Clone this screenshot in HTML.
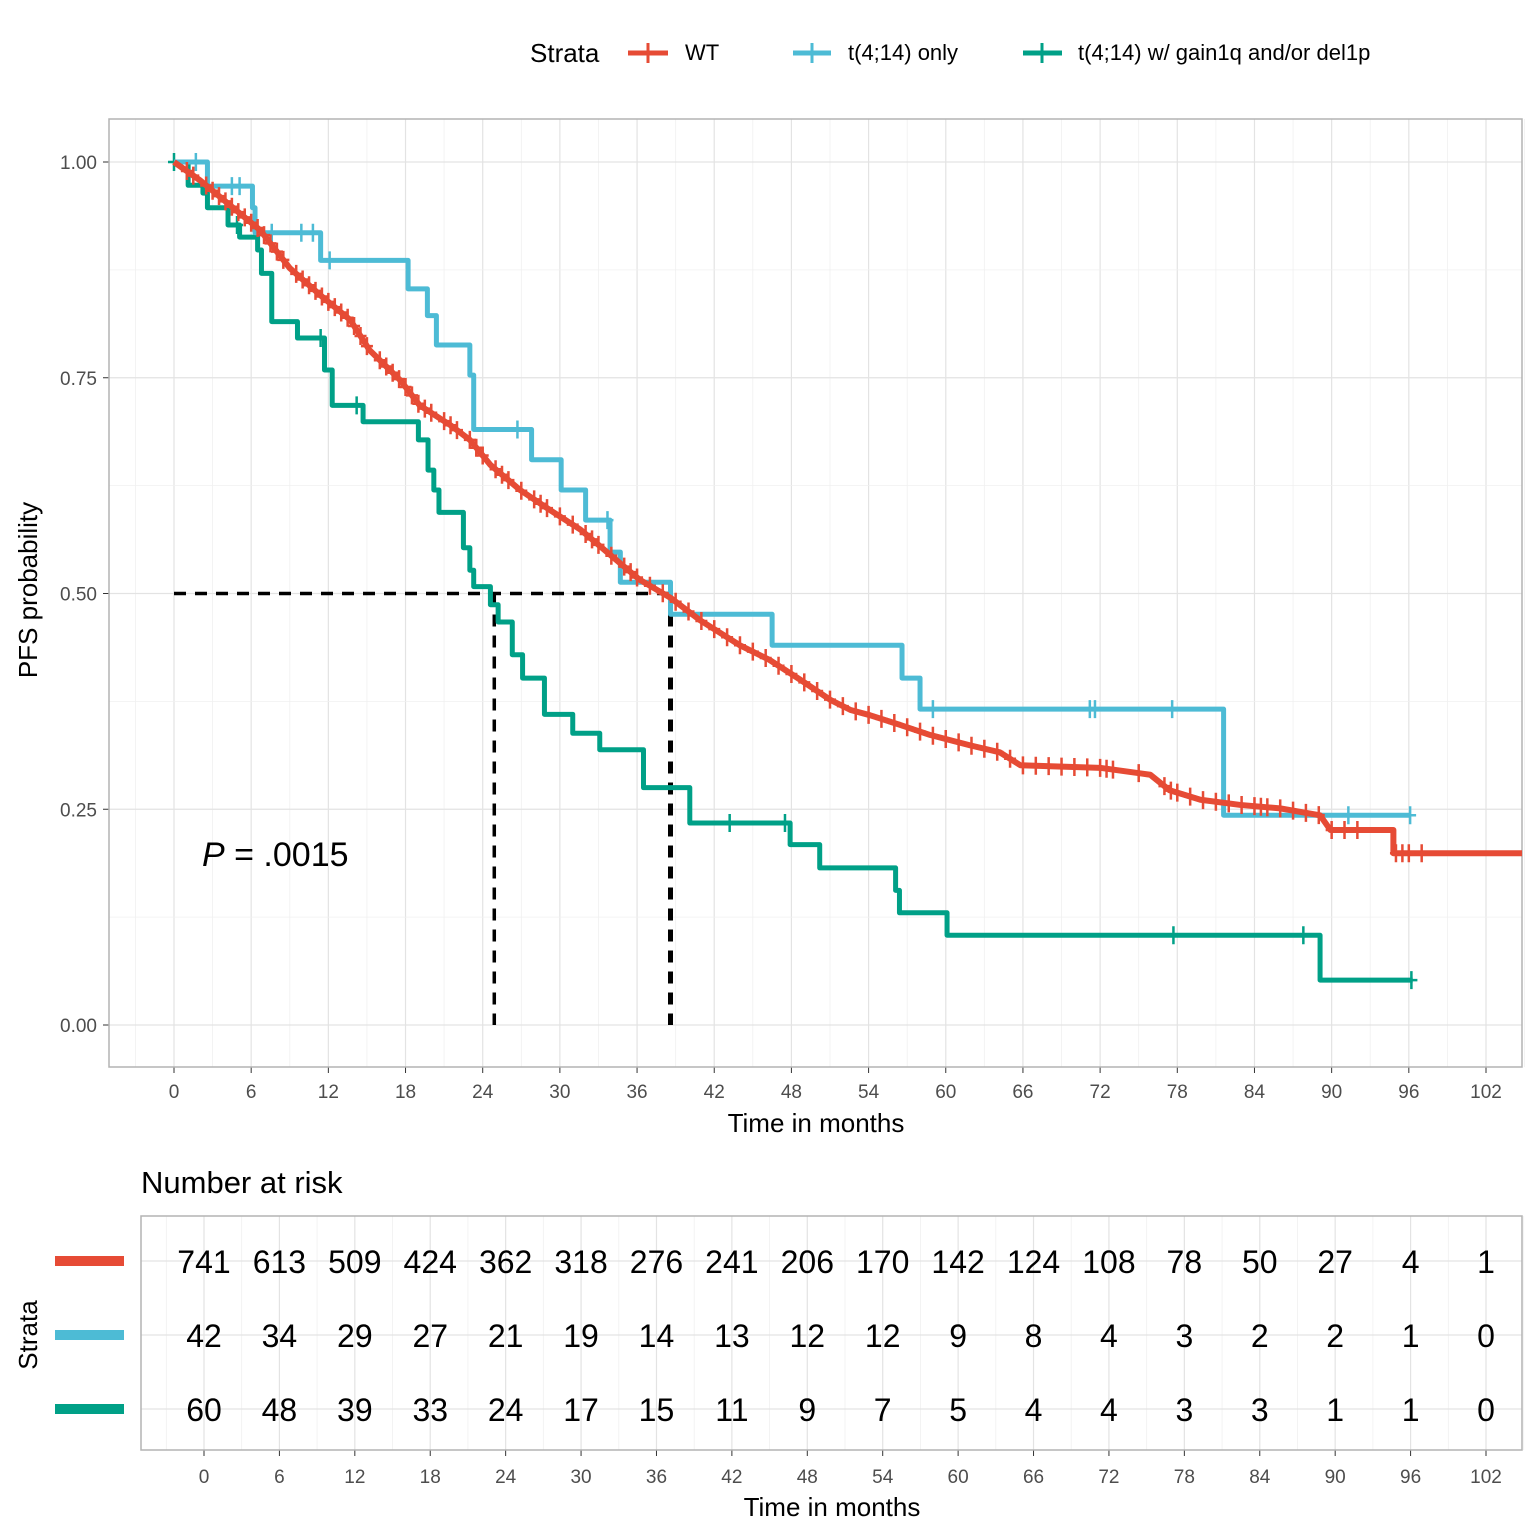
<!DOCTYPE html>
<html><head><meta charset="utf-8"><style>
html,body{margin:0;padding:0;background:#fff;}
svg{display:block;font-family:"Liberation Sans",Arial,sans-serif;}
</style></head><body>
<svg id="chart" width="1538" height="1538" viewBox="0 0 1538 1538" xmlns="http://www.w3.org/2000/svg">
<g id="legend">
 <text x="530" y="62" font-size="26" fill="#000">Strata</text>
 <g><line x1="628" y1="53" x2="668" y2="53" stroke="#E64B35" stroke-width="5"/><line x1="648" y1="43" x2="648" y2="63" stroke="#E64B35" stroke-width="3"/><text x="685" y="60" font-size="22">WT</text></g>
 <g><line x1="793" y1="53" x2="831" y2="53" stroke="#4DBBD5" stroke-width="5"/><line x1="812" y1="43" x2="812" y2="63" stroke="#4DBBD5" stroke-width="3"/><text x="848" y="60" font-size="22">t(4;14) only</text></g>
 <g><line x1="1023" y1="53" x2="1062" y2="53" stroke="#00A087" stroke-width="5"/><line x1="1042" y1="43" x2="1042" y2="63" stroke="#00A087" stroke-width="3"/><text x="1078" y="60" font-size="22">t(4;14) w/ gain1q and/or del1p</text></g>
</g>
<g id="main"></g>
<g id="risk"></g>
</svg>
<script>
// ---- data ----
const xTicks = [0,6,12,18,24,30,36,42,48,54,60,66,72,78,84,90,96,102];
const yTicks = [0,0.25,0.5,0.75,1.0];
const yTickLabels = ["0.00","0.25","0.50","0.75","1.00"];
const wtTimes = [0,2.0,4.35,6.7,9.0,11.35,13.7,15.2,17.6,19.1,21.5,23.0,24.6,26.9,29.2,31.6,33.9,36.2,38.6,40.9,44.0,46.3,48.7,51.0,52.6,54.1,56.4,58.8,61.9,64.2,65.8,72.0,75.9,77.4,79.8,82.9,86.0,89.1,89.9,94.5,94.8];
const wtSurv  = [1,0.979,0.950,0.921,0.877,0.846,0.817,0.782,0.747,0.718,0.695,0.678,0.649,0.620,0.597,0.574,0.545,0.516,0.495,0.469,0.440,0.423,0.400,0.377,0.365,0.359,0.348,0.336,0.324,0.316,0.301,0.298,0.290,0.272,0.261,0.255,0.251,0.243,0.226,0.226,0.199];
const wtEnd = 104.8;
const wtCensor = [1,1.5,2.5,3,3.5,4,4.5,5,5.5,6,6.5,7,7.5,8,8.5,9.5,10,10.5,11,11.5,12,12.5,13,13.5,14,14.5,15,16,16.5,17,17.5,18,18.5,19,19.5,20,21,21.5,22,23,23.5,24,25,25.5,26,27,28,28.5,29,30,31,32,32.5,33,34,35,35.5,36,37,38,39,40,41,42,43,44,45,46,47,48,49,50,51,52,53,54,55,56,57,58,59,60,61,62,63,64,65,66,67,68,69,70,71,72,72.5,73,75,77,77.5,78,79,80,81,82,83,84,84.5,85,86,87,88,89,90,91,92,95,95.5,96,97];
const t414Times = [0,2.6,6.1,6.3,11.4,18.2,19.7,20.4,23.0,23.3,27.8,30.1,32.0,33.9,34.7,38.6,46.5,56.6,58.0,81.6];
const t414Surv  = [1,0.972,0.947,0.918,0.886,0.853,0.822,0.788,0.753,0.690,0.655,0.620,0.585,0.548,0.513,0.476,0.440,0.402,0.366,0.243];
const t414End = 96.1;
const t414Censor = [1.7,4.5,5.1,7.6,9.9,10.8,12.1,26.7,33.7,59.0,71.2,71.6,77.6,91.3,96.1];
const gTimes = [0,1.1,2.25,2.6,4.2,5.1,6.5,6.8,7.6,9.6,11.7,12.3,14.7,19.0,19.75,20.2,20.6,22.5,23.0,23.3,24.6,25.2,26.3,27.1,28.8,31.0,33.1,36.5,40.1,47.9,50.2,56.1,56.4,60.1,89.1];
const gSurv  = [1,0.973,0.964,0.947,0.927,0.913,0.898,0.871,0.815,0.796,0.759,0.718,0.699,0.678,0.643,0.620,0.594,0.553,0.527,0.508,0.487,0.467,0.429,0.402,0.360,0.338,0.319,0.275,0.234,0.209,0.182,0.156,0.130,0.104,0.052];
const gEnd = 96.3;
const gCensor = [0,4.9,11.4,14.2,43.2,47.5,77.7,87.8,96.2];
const medians = [24.9,38.6];
const riskWT = [741,613,509,424,362,318,276,241,206,170,142,124,108,78,50,27,4,1];
const riskT414 = [42,34,29,27,21,19,14,13,12,12,9,8,4,3,2,2,1,0];
const riskG = [60,48,39,33,24,17,15,11,9,7,5,4,4,3,3,1,1,0];

// ---- helpers ----
const NS="http://www.w3.org/2000/svg";
function mk(tag,attrs,parent,text){const e=document.createElementNS(NS,tag);for(const k in attrs)e.setAttribute(k,attrs[k]);if(text!==undefined)e.textContent=text;parent.appendChild(e);return e;}
const X=t=>174+t*(1486-174)/102;
const Y=s=>1025-s*863;
const RX=t=>204+t*(1486-204)/102;
const main=document.getElementById('main');
const risk=document.getElementById('risk');

for(let i=0;i<xTicks.length;i++){
  const m=xTicks[i];
  let g=mk('line',{x1:X(m),x2:X(m),y1:119,y2:1067,stroke:'#e3e3e3','stroke-width':1.2},main);
  
  
  let g2=mk('line',{x1:X(m+3),x2:X(m+3),y1:119,y2:1067,stroke:'#f0f0f0','stroke-width':0.8},main);
  
  
}
mk('line',{x1:X(-3),x2:X(-3),y1:119,y2:1067,stroke:'#f0f0f0','stroke-width':0.8},main);
for(let i=0;i<yTicks.length;i++){
  const g=mk('line',{x1:109,x2:1522,y1:Y(yTicks[i]),y2:Y(yTicks[i]),stroke:'#e3e3e3','stroke-width':1.2},main);
  
  
  if(i<yTicks.length-1){const m=mk('line',{x1:109,x2:1522,y1:Y(yTicks[i]+0.125),y2:Y(yTicks[i]+0.125),stroke:'#f0f0f0','stroke-width':0.8},main);
  
  }
  const t=mk('text',{x:97,y:Y(yTicks[i])+7,'font-size':19,fill:'#4d4d4d','text-anchor':'end'},main,yTickLabels[i]);
  
  
  mk('line',{x1:103,x2:109,y1:Y(yTicks[i]),y2:Y(yTicks[i]),stroke:'#333','stroke-width':1},main);
}
for(let i=0;i<xTicks.length;i++){
  const t=mk('text',{x:X(xTicks[i]),y:1098,'font-size':19,fill:'#4d4d4d','text-anchor':'middle'},main,String(xTicks[i]));
  
  
  mk('line',{x1:X(xTicks[i]),x2:X(xTicks[i]),y1:1067,y2:1073,stroke:'#333','stroke-width':1},main);
}
let bx=mk('rect',{x:109,y:119,width:1413,height:948,fill:'none',stroke:'#b3b3b3','stroke-width':1.5},main);


let xt=mk('text',{x:816,y:1132,'font-size':26,'text-anchor':'middle'},main,'Time in months');


let yt=mk('text',{x:0,y:0,'font-size':26,'text-anchor':'middle',transform:'translate(37,590) rotate(-90)'},main,'PFS probability');



let hd=mk('line',{x1:X(0),x2:X(medians[1]),y1:Y(0.5),y2:Y(0.5),stroke:'#000','stroke-width':3.5,'stroke-dasharray':'12 9'},main);


let v1=mk('line',{x1:X(medians[0]),x2:X(medians[0]),y1:Y(0.5),y2:Y(0),stroke:'#000','stroke-width':3.5,'stroke-dasharray':'12 9'},main);


let v2=mk('line',{x1:X(medians[1]),x2:X(medians[1]),y1:Y(0.5),y2:Y(0),stroke:'#000','stroke-width':5,'stroke-dasharray':'12 9'},main);



function stepAt(times,surv,t){let s=surv[0];for(let i=0;i<times.length;i++){if(times[i]<=t)s=surv[i];}return s;}
function linAt(times,surv,t){for(let i=1;i<times.length;i++){if(t<=times[i]){const f=(t-times[i-1])/(times[i]-times[i-1]);return surv[i-1]+f*(surv[i]-surv[i-1]);}}return surv[surv.length-1];}
function drawCurve(times,surv,end,censor,color,name,smooth,w){
  let d='M'+X(times[0])+','+Y(surv[0]);
  for(let i=1;i<times.length;i++){
    if(smooth && times[i]-times[i-1]>0.5) d+=' L'+X(times[i])+','+Y(surv[i]);
    else d+=' H'+X(times[i])+' V'+Y(surv[i]);
  }
  d+=' H'+X(end);
  const p=mk('path',{d:d,fill:'none',stroke:color,'stroke-width':w,'stroke-linejoin':'round'},main);
  
  
  for(const c of censor){
    const s=smooth?linAt(times,surv,c):stepAt(times,surv,c);
    const m=mk('path',{d:'M'+(X(c)-6)+','+Y(s)+' h12 M'+X(c)+','+(Y(s)-9)+' v18',stroke:color,'stroke-width':2.5,fill:'none'},main);
    
    
  }
}
drawCurve(gTimes,gSurv,gEnd,gCensor,'#00A087','gain1q',false,5);
drawCurve(t414Times,t414Surv,t414End,t414Censor,'#4DBBD5','t414-only',false,5);
drawCurve(wtTimes,wtSurv,wtEnd,wtCensor,'#E64B35','wt',true,6);

let pv=mk('text',{x:202,y:866,'font-size':34},main);


mk('tspan',{'font-style':'italic'},pv,'P');
mk('tspan',{},pv,' = .0015');

// ---- risk table ----
let rt=mk('text',{x:141,y:1193,'font-size':31},risk,'Number at risk');


const rowsY=[1261,1335,1409];
for(let i=0;i<xTicks.length;i++){
  const g=mk('line',{x1:RX(xTicks[i]),x2:RX(xTicks[i]),y1:1216,y2:1450,stroke:'#e3e3e3','stroke-width':1.2},risk);
  
  
  mk('line',{x1:RX(xTicks[i]+3),x2:RX(xTicks[i]+3),y1:1216,y2:1450,stroke:'#f0f0f0','stroke-width':0.8},risk);
  const t=mk('text',{x:RX(xTicks[i]),y:1483,'font-size':19,fill:'#4d4d4d','text-anchor':'middle'},risk,String(xTicks[i]));
  
  
  mk('line',{x1:RX(xTicks[i]),x2:RX(xTicks[i]),y1:1450,y2:1456,stroke:'#333','stroke-width':1},risk);
}
mk('line',{x1:RX(-3),x2:RX(-3),y1:1216,y2:1450,stroke:'#f0f0f0','stroke-width':0.8},risk);
for(const y of rowsY) mk('line',{x1:141,x2:1522,y1:y,y2:y,stroke:'#e3e3e3','stroke-width':1.2},risk);
let rb=mk('rect',{x:141,y:1216,width:1381,height:234,fill:'none',stroke:'#b3b3b3','stroke-width':1.5},risk);


const rows=[riskWT,riskT414,riskG], cols=['#E64B35','#4DBBD5','#00A087'], names=['wt','t414-only','gain1q'];
rows.forEach((r,ri)=>{
  const sw=mk('line',{x1:55,x2:124,y1:rowsY[ri],y2:rowsY[ri],stroke:cols[ri],'stroke-width':10},risk);
  
  
  r.forEach((v,i)=>{
    const t=mk('text',{x:RX(xTicks[i]),y:rowsY[ri]+12,'font-size':32,'text-anchor':'middle'},risk,String(v));
    
    
  });
});
let rs=mk('text',{x:0,y:0,'font-size':26,'text-anchor':'middle',transform:'translate(37,1335) rotate(-90)'},risk,'Strata');


let rx=mk('text',{x:832,y:1516,'font-size':26,'text-anchor':'middle'},risk,'Time in months');


</script>
</body></html>
